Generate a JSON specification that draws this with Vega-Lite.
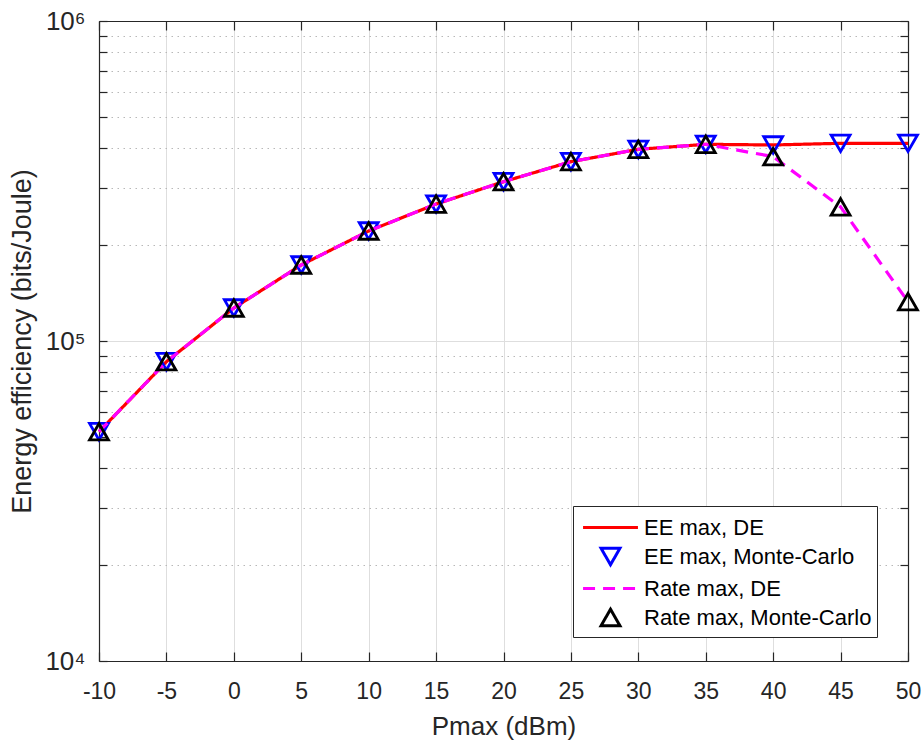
{
  "$schema": "https://vega.github.io/schema/vega-lite/v6.json",
  "width": 809,
  "height": 640,
  "autosize": "none",
  "padding": {"left": 99, "top": 21, "right": 15, "bottom": 79},
  "background": "white",
  "config": {
    "font": "Liberation Sans",
    "view": {"stroke": null},
    "axis": {
      "domainColor": "#262626", "domainWidth": 1.2,
      "tickColor": "#262626", "tickWidth": 1.2,
      "labelColor": "#262626", "titleColor": "#262626",
      "labelFont": "Liberation Sans", "titleFont": "Liberation Sans",
      "titleFontWeight": "normal",
      "gridColor": "#dedede", "gridWidth": 1
    },
    "legend": {
      "orient": "none", "legendX": 474, "legendY": 485,
      "strokeColor": "#262626", "fillColor": "white", "padding": 5,
      "labelFont": "Liberation Sans", "labelFontSize": 22, "labelColor": "#000000",
      "symbolSize": 900, "symbolStrokeWidth": 3, "symbolFillColor": "transparent",
      "symbolOffset": 16, "labelOffset": 17, "rowPadding": 1, "title": null, "labelLimit": 400
    }
  },
  "data": {"values": [
    {"p": -10, "series": "EE max, DE", "v": 52060},
    {"p": -5, "series": "EE max, DE", "v": 86150},
    {"p": 0, "series": "EE max, DE", "v": 126800},
    {"p": 5, "series": "EE max, DE", "v": 172800},
    {"p": 10, "series": "EE max, DE", "v": 220700},
    {"p": 15, "series": "EE max, DE", "v": 267900},
    {"p": 20, "series": "EE max, DE", "v": 314600},
    {"p": 25, "series": "EE max, DE", "v": 363400},
    {"p": 30, "series": "EE max, DE", "v": 397200},
    {"p": 35, "series": "EE max, DE", "v": 411800},
    {"p": 40, "series": "EE max, DE", "v": 409800},
    {"p": 45, "series": "EE max, DE", "v": 414800},
    {"p": 50, "series": "EE max, DE", "v": 414800},
    {"p": -10, "series": "EE max, Monte-Carlo", "v": 52060},
    {"p": -5, "series": "EE max, Monte-Carlo", "v": 86150},
    {"p": 0, "series": "EE max, Monte-Carlo", "v": 126800},
    {"p": 5, "series": "EE max, Monte-Carlo", "v": 172800},
    {"p": 10, "series": "EE max, Monte-Carlo", "v": 220700},
    {"p": 15, "series": "EE max, Monte-Carlo", "v": 267900},
    {"p": 20, "series": "EE max, Monte-Carlo", "v": 314600},
    {"p": 25, "series": "EE max, Monte-Carlo", "v": 363400},
    {"p": 30, "series": "EE max, Monte-Carlo", "v": 397200},
    {"p": 35, "series": "EE max, Monte-Carlo", "v": 411800},
    {"p": 40, "series": "EE max, Monte-Carlo", "v": 409800},
    {"p": 45, "series": "EE max, Monte-Carlo", "v": 414800},
    {"p": 50, "series": "EE max, Monte-Carlo", "v": 414800},
    {"p": -10, "series": "Rate max, DE", "v": 52060},
    {"p": -5, "series": "Rate max, DE", "v": 86150},
    {"p": 0, "series": "Rate max, DE", "v": 126800},
    {"p": 5, "series": "Rate max, DE", "v": 172800},
    {"p": 10, "series": "Rate max, DE", "v": 220700},
    {"p": 15, "series": "Rate max, DE", "v": 267900},
    {"p": 20, "series": "Rate max, DE", "v": 314600},
    {"p": 25, "series": "Rate max, DE", "v": 363400},
    {"p": 30, "series": "Rate max, DE", "v": 397200},
    {"p": 35, "series": "Rate max, DE", "v": 411800},
    {"p": 40, "series": "Rate max, DE", "v": 376700},
    {"p": 45, "series": "Rate max, DE", "v": 262400},
    {"p": 50, "series": "Rate max, DE", "v": 132700},
    {"p": -10, "series": "Rate max, Monte-Carlo", "v": 52060},
    {"p": -5, "series": "Rate max, Monte-Carlo", "v": 86150},
    {"p": 0, "series": "Rate max, Monte-Carlo", "v": 126800},
    {"p": 5, "series": "Rate max, Monte-Carlo", "v": 172800},
    {"p": 10, "series": "Rate max, Monte-Carlo", "v": 220700},
    {"p": 15, "series": "Rate max, Monte-Carlo", "v": 267900},
    {"p": 20, "series": "Rate max, Monte-Carlo", "v": 314600},
    {"p": 25, "series": "Rate max, Monte-Carlo", "v": 363400},
    {"p": 30, "series": "Rate max, Monte-Carlo", "v": 397200},
    {"p": 35, "series": "Rate max, Monte-Carlo", "v": 411800},
    {"p": 40, "series": "Rate max, Monte-Carlo", "v": 376700},
    {"p": 45, "series": "Rate max, Monte-Carlo", "v": 262400},
    {"p": 50, "series": "Rate max, Monte-Carlo", "v": 132700}
  ]},
  "layer": [
    {
      "encoding": {
        "x": {
          "field": "p", "type": "quantitative",
          "scale": {"domain": [-10, 50], "nice": false, "zero": false},
          "axis": {
            "orient": "bottom", "title": "Pmax (dBm)",
            "values": [-10, -5, 0, 5, 10, 15, 20, 25, 30, 35, 40, 45, 50],
            "labelExpr": "'' + datum.value",
            "labelFontSize": 23, "titleFontSize": 26,
            "grid": true, "tickSize": -9, "labelPadding": 28, "titlePadding": 10,
            "labelFlush": false, "labelOverlap": false
          }
        },
        "y": {
          "field": "v", "type": "quantitative",
          "scale": {"type": "log", "domain": [10000, 1000000], "nice": false},
          "axis": {
            "orient": "left", "title": "Energy efficiency (bits/Joule)",
            "values": [10000, 20000, 30000, 40000, 50000, 60000, 70000, 80000, 90000, 100000, 200000, 300000, 400000, 500000, 600000, 700000, 800000, 900000, 1000000],
            "labelExpr": "datum.value == 10000 ? '10⁴' : datum.value == 100000 ? '10⁵' : datum.value == 1000000 ? '10⁶' : ''",
            "labelFontSize": 26, "titleFontSize": 27,
            "grid": true,
            "gridDash": {"condition": {"test": "datum.value == 10000 || datum.value == 100000 || datum.value == 1000000", "value": []}, "value": [1.5, 4.5]},
            "gridColor": {"condition": {"test": "datum.value == 10000 || datum.value == 100000 || datum.value == 1000000", "value": "#dedede"}, "value": "#b8b8b8"},
            "tickSize": -8, "labelPadding": 22, "titlePadding": 8, "labelFlush": false, "labelOverlap": false
          }
        },
        "color": {
          "field": "series", "type": "nominal",
          "scale": {"domain": ["EE max, DE", "EE max, Monte-Carlo", "Rate max, DE", "Rate max, Monte-Carlo"], "range": ["#ff0000", "#0000ff", "#ff00ff", "#000000"]}
        }
      },
      "layer": [
        {
          "transform": [{"filter": {"field": "series", "equal": "EE max, DE"}}],
          "mark": {"type": "line", "strokeWidth": 3.2},
          "encoding": {
            "strokeDash": {"field": "series", "type": "nominal", "scale": {"domain": ["EE max, DE", "EE max, Monte-Carlo", "Rate max, DE", "Rate max, Monte-Carlo"], "range": [[1, 0], [1, 0], [12, 8], [1, 0]]}}
          }
        },
        {
          "transform": [{"filter": {"field": "series", "equal": "EE max, Monte-Carlo"}}],
          "mark": {"type": "point", "filled": false, "size": 900, "strokeWidth": 2.8, "opacity": 1},
          "encoding": {
            "shape": {"field": "series", "type": "nominal", "scale": {"domain": ["EE max, DE", "EE max, Monte-Carlo", "Rate max, DE", "Rate max, Monte-Carlo"], "range": ["M-1.83,0L1.83,0", "M-0.63,-0.55L0.63,-0.55L0,0.55Z", "M-1.83,0L1.83,0", "M0,-0.55L0.63,0.55L-0.63,0.55Z"]}}
          }
        },
        {
          "transform": [{"filter": {"field": "series", "equal": "Rate max, DE"}}],
          "mark": {"type": "line", "strokeWidth": 3.2},
          "encoding": {
            "strokeDash": {"field": "series", "type": "nominal", "scale": {"domain": ["EE max, DE", "EE max, Monte-Carlo", "Rate max, DE", "Rate max, Monte-Carlo"], "range": [[1, 0], [1, 0], [12, 8], [1, 0]]}}
          }
        },
        {
          "transform": [{"filter": {"field": "series", "equal": "Rate max, Monte-Carlo"}}],
          "mark": {"type": "point", "filled": false, "size": 900, "strokeWidth": 2.8, "opacity": 1},
          "encoding": {
            "shape": {"field": "series", "type": "nominal", "scale": {"domain": ["EE max, DE", "EE max, Monte-Carlo", "Rate max, DE", "Rate max, Monte-Carlo"], "range": ["M-1.83,0L1.83,0", "M-0.63,-0.55L0.63,-0.55L0,0.55Z", "M-1.83,0L1.83,0", "M0,-0.55L0.63,0.55L-0.63,0.55Z"]}}
          }
        }
      ]
    },
    {
      "mark": {"type": "point", "opacity": 0},
      "encoding": {
        "x": {
          "field": "p", "type": "quantitative",
          "axis": {"orient": "top", "title": null, "labels": false, "grid": false, "tickSize": -9,
            "values": [-10, -5, 0, 5, 10, 15, 20, 25, 30, 35, 40, 45, 50]}
        },
        "y": {
          "field": "v", "type": "quantitative",
          "axis": {"orient": "right", "title": null, "labels": false, "grid": false, "tickSize": -8,
            "values": [10000, 20000, 30000, 40000, 50000, 60000, 70000, 80000, 90000, 100000, 200000, 300000, 400000, 500000, 600000, 700000, 800000, 900000, 1000000]}
        }
      }
    }
  ],
  "resolve": {"axis": {"x": "independent", "y": "independent"}}
}
